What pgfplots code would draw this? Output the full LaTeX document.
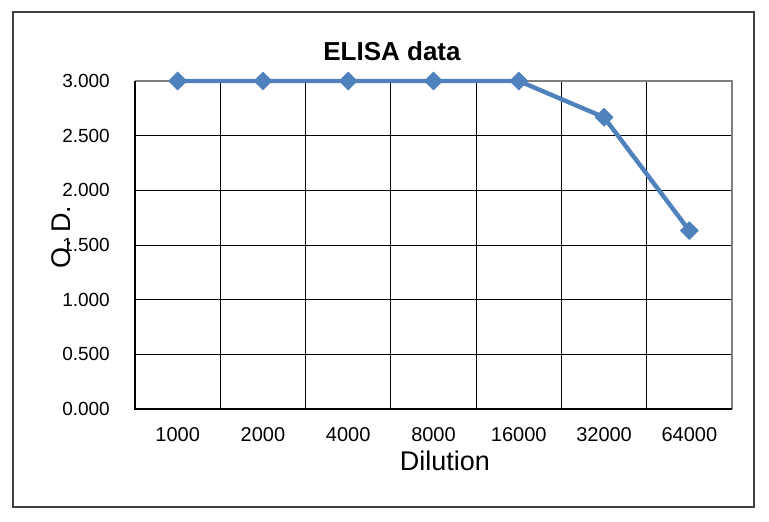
\documentclass[border=0pt]{standalone}
\usepackage{fontspec}
\setmainfont{Liberation Sans}
\usepackage{pgfplots}
\pgfplotsset{compat=1.18}
\definecolor{xlblue}{HTML}{4F81BD}
\begin{document}
\begin{tikzpicture}[x=1pt,y=1pt]
\path[use as bounding box] (0,0) rectangle (769,522);
\draw[color=black!75, line width=1.2pt] (13,15) rectangle (754,510);
\begin{axis}[
  at={(135pt,113pt)}, anchor=south west,
  scale only axis, width=597pt, height=328pt,
  xmin=0.5, xmax=7.5, ymin=0, ymax=3,
  xtick={1,2,3,4,5,6,7},
  xticklabels={1000,2000,4000,8000,16000,32000,64000},
  minor xtick={1.5,2.5,3.5,4.5,5.5,6.5},
  ytick={0,0.5,1,1.5,2,2.5,3},
  ymajorgrids, xminorgrids,
  major grid style={black, line width=0.9pt},
  minor grid style={black, line width=0.9pt},
  major tick length=0pt, minor tick length=0pt,
  axis line style={draw=none},
  clip=false,
  every axis title shift=0pt,
  /pgf/number format/assume math mode=true,
  yticklabel={\pgfmathprintnumber[fixed,fixed zerofill,precision=3]{\tick}},
  yticklabel style={anchor=east, inner sep=0pt, xshift=-25pt, font=\fontsize{19}{20}\selectfont},
  xticklabel style={anchor=base, inner sep=0pt, yshift=-32.7pt, font=\fontsize{20}{21}\selectfont},
  title={ELISA data},
  title style={at={(axis description cs:0.4305,1.062)}, anchor=base, inner sep=0pt, font=\fontsize{26}{28}\selectfont\bfseries},
  xlabel={Dilution},
  xlabel style={at={(axis description cs:0.519,-0.188)}, anchor=base, inner sep=0pt, font=\fontsize{27}{29}\selectfont},
  ylabel={O. D.},
  ylabel style={at={(axis description cs:-0.123,0.524)}, anchor=center, inner sep=0pt, font=\fontsize{27}{29}\selectfont},
]
\draw[color=black!50, line width=1.2pt] (rel axis cs:0,1) -- (rel axis cs:1,1) -- (rel axis cs:1,0);
\draw[black, line width=1.3pt] (rel axis cs:0,1) -- (rel axis cs:0,0) -- (rel axis cs:1,0);
\addplot[color=xlblue, line width=4.4pt, mark=square*, mark size=6.4pt,
  mark options={rotate=45, fill=xlblue, draw=xlblue, line width=0.5pt}]
  coordinates {(1,3.000) (2,3.000) (3,3.000) (4,3.000) (5,3.000) (6,2.668) (7,1.631)};
\end{axis}
\end{tikzpicture}
\end{document}
